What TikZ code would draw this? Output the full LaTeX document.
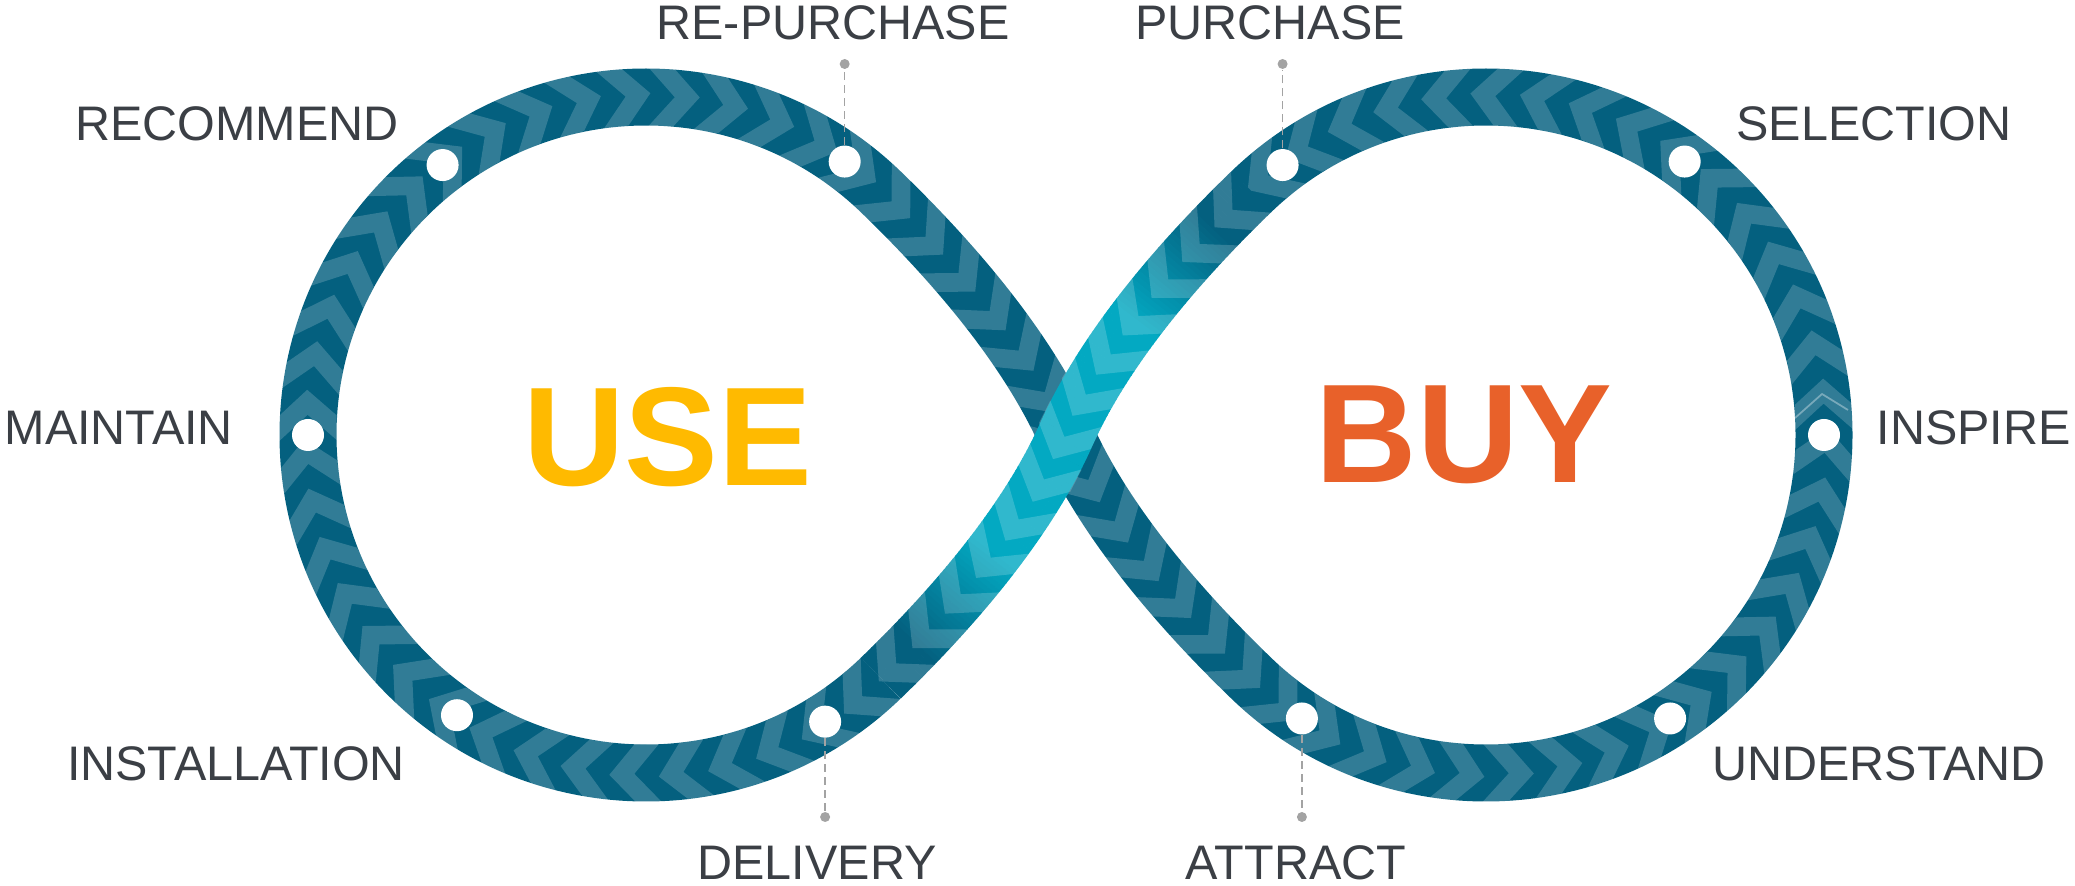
\documentclass[tikz,border=0pt]{standalone}
\usepackage{fontspec}
\setmainfont{Liberation Sans}
\usepackage{tikz}
\usetikzlibrary{decorations.markings}
\definecolor{bandDark}{HTML}{04607F}
\definecolor{bandCyan}{HTML}{03A9C2}
\definecolor{labelGray}{HTML}{3B3F45}
\definecolor{useYellow}{HTML}{FFBA00}
\definecolor{buyOrange}{HTML}{E8612A}
\definecolor{leadGray}{HTML}{A3A3A3}

\begin{document}
\begin{tikzpicture}
\tikzset{chevrons/.style={postaction={decorate,decoration={markings,mark=between positions 0 and 0.995 step #1 with {\fill[white, fill opacity=0.18] (0,0.29) -- (0.26,0) -- (0,-0.29) -- (0.25,-0.29) -- (0.51,0) -- (0.25,0.29) -- cycle;}}}}}
\tikzset{crossfade/.style={postaction={decorate,decoration={markings,mark=between positions 0 and 0.995 step 0.008 with {
    \pgfmathsetmacro\fr{\pgfkeysvalueof{/pgf/decoration/mark info/distance from start}/\pgfdecoratedpathlength}
    \pgfmathsetmacro\mix{100*max(0,min(1,(0.42-abs(\fr-0.5))/0.2))}
    \fill[bandCyan!\mix!bandDark] (-0.006,-0.285) rectangle (0.05,0.285);}}}}}
\tikzset{band/.style={draw=bandDark, line width=0.57cm}}
\tikzset{stopdot/.style={circle, fill=white, inner sep=0pt, minimum size=0.32cm}}
\tikzset{leadend/.style={circle, fill=leadGray, inner sep=0pt, minimum size=0.1cm}}
\tikzset{leader/.style={draw=leadGray, line width=0.45pt, dash pattern=on 0.08cm off 0.05cm}}
\tikzset{steplabel/.style={text=labelGray, inner sep=0pt, font=\fontsize{13.8}{16}\selectfont}}
\tikzset{bigword/.style={inner sep=0pt, font=\fontsize{40}{48}\selectfont\bfseries}}
    \useasboundingbox (0,0) rectangle (20.75,8.86);
    \def\rad{3.38}

    \coordinate (Lc) at (6.46,4.51);
    \coordinate (Rc) at (14.86,4.51);
    \coordinate (X) at (10.66,4.51);

    \coordinate (Lb) at ([shift={(-46:\rad)}]Lc);
    \coordinate (Rb) at ([shift={(226:\rad)}]Rc);
    \coordinate (Rt) at ([shift={(134:\rad)}]Rc);

    % both loops and the dark crossing
    \draw[band, chevrons=0.012987] (Lb) arc[start angle=-46, end angle=-314, radius=\rad]
        .. controls +(-44:1.1) and +(114:0.9) .. (X)
        .. controls +(-66:0.9) and +(136:1.1) .. (Rb)
        arc[start angle=226, end angle=494, radius=\rad];

    % the light crossing on top
    \path[crossfade] (Rt) .. controls +(224:1.1) and +(66:0.9) .. (X)
        .. controls +(246:0.9) and +(44:1.1) .. (Lb);
    \path[chevrons=0.076923] (Rt) .. controls +(224:1.1) and +(66:0.9) .. (X)
        .. controls +(246:0.9) and +(44:1.1) .. (Lb);

    \draw[white, draw opacity=0.35, line width=0.5pt] (17.95,4.68) -- (18.22,4.92) -- (18.48,4.76);
% % % % % % % % % % % % % % % % % % %
    \node[stopdot] (recommend) at ([shift={(127:\rad)}]Lc) {};
    \node[stopdot] (repurchase) at ([shift={(54:\rad)}]Lc) {};
    \node[stopdot] (maintain) at ([shift={(180:\rad)}]Lc) {};
    \node[stopdot] (installation) at ([shift={(-124:\rad)}]Lc) {};
    \node[stopdot] (delivery) at ([shift={(-58:\rad)}]Lc) {};

    \node[stopdot] (purchase) at ([shift={(127:\rad)}]Rc) {};
    \node[stopdot] (selection) at ([shift={(54:\rad)}]Rc) {};
    \node[stopdot] (inspire) at ([shift={(0:\rad)}]Rc) {};
    \node[stopdot] (understand) at ([shift={(-57:\rad)}]Rc) {};
    \node[stopdot] (attract) at ([shift={(-123:\rad)}]Rc) {};

    \node[leadend] (repurchaseEnd) at (repurchase |- 0,8.22) {};
    \node[leadend] (purchaseEnd) at (purchase |- 0,8.22) {};
    \node[leadend] (deliveryEnd) at (delivery |- 0,0.69) {};
    \node[leadend] (attractEnd) at (attract |- 0,0.69) {};

    \draw[leader] (repurchase) -- (repurchaseEnd);
    \draw[leader] (purchase) -- (purchaseEnd);
    \draw[leader] (delivery) -- (deliveryEnd);
    \draw[leader] (attract) -- (attractEnd);
% % % % % % % % % % % % % % % % % % %
    \node[steplabel] (recommendLbl) at (2.37,7.62) {RECOMMEND};
    \node[steplabel] (repurchaseLbl) at (8.33,8.63) {RE-PURCHASE};
    \node[steplabel] (purchaseLbl) at (12.70,8.63) {PURCHASE};
    \node[steplabel] (selectionLbl) at (18.74,7.62) {SELECTION};
    \node[steplabel, anchor=west] (maintainLbl) at (0.04,4.58) {MAINTAIN};
    \node[steplabel, anchor=west] (inspireLbl) at (18.76,4.58) {INSPIRE};
    \node[steplabel] (installationLbl) at (2.36,1.22) {INSTALLATION};
    \node[steplabel] (understandLbl) at (18.79,1.22) {UNDERSTAND};
    \node[steplabel] (deliveryLbl) at (8.17,0.23) {DELIVERY};
    \node[steplabel] (attractLbl) at (12.96,0.23) {ATTRACT};

    \node[bigword, text=useYellow] (use) at (6.68,4.49) {USE};
    \node[bigword, text=buyOrange] (buy) at (14.64,4.51) {BUY};
\end{tikzpicture}
\end{document}
